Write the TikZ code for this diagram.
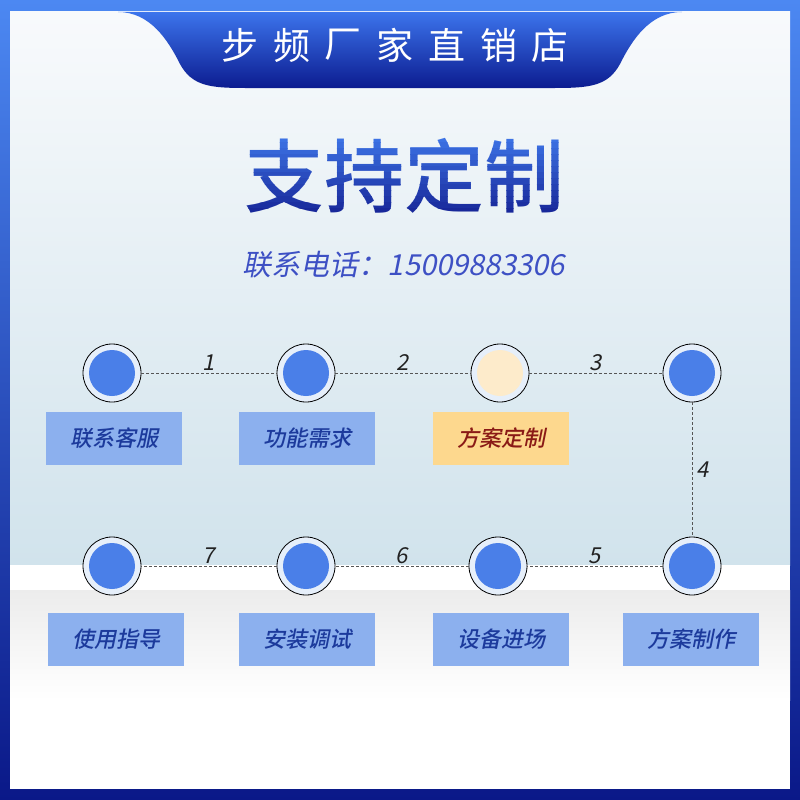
\documentclass[tikz,border=0pt]{standalone}
\usepackage{fontspec}
\newfontfamily\cjk{Noto Sans CJK SC}
\newfontfamily\cjkmed{Noto Sans CJK SC Medium}
\newfontfamily\cjkit[FakeSlant=0.2]{Noto Sans CJK SC}
\newfontfamily\cjkmedit[FakeSlant=0.2]{Noto Sans CJK SC Medium}
\definecolor{frametop}{HTML}{4C88F2}
\definecolor{framebot}{HTML}{0A1888}
\definecolor{bgtop}{HTML}{F8FAFC}
\definecolor{bgmid}{HTML}{D1E3EC}
\definecolor{bggray}{HTML}{ECECEC}
\definecolor{tabtop}{HTML}{3C74EC}
\definecolor{tabbot}{HTML}{0C1C90}
\definecolor{titletop}{HTML}{3C72E4}
\definecolor{titlebot}{HTML}{18289A}
\definecolor{phoneblue}{HTML}{3D50C4}
\definecolor{dotblue}{HTML}{4A7FE8}
\definecolor{ringwhite}{HTML}{E6EFFA}
\definecolor{peach}{HTML}{FDEBCB}
\definecolor{boxblue}{HTML}{8CB0EE}
\definecolor{boxtext}{HTML}{1C3A9C}
\definecolor{boxorange}{HTML}{FDD88E}
\definecolor{boxred}{HTML}{8A1A16}
\definecolor{linegray}{HTML}{555555}
\definecolor{numgray}{HTML}{222222}
\tikzset{
  stepdot/.style={circle, draw=black, line width=0.8pt, fill=ringwhite,
    minimum size=58pt, inner sep=0pt,
    path picture={\fill[#1] (path picture bounding box.center) circle (23pt);}},
  stepdot/.default=dotblue,
  stepbox/.style={fill=boxblue, minimum width=136pt, minimum height=53pt,
    text=boxtext, font=\cjkmedit\fontsize{22}{22}\selectfont},
  hotbox/.style={stepbox, fill=boxorange, text=boxred},
  link/.style={draw=linegray, dash pattern=on 3pt off 2pt, line width=0.6pt},
  numlabel/.style={font=\cjkit\fontsize{22}{22}\selectfont, text=numgray, inner sep=2pt},
  titlefont/.style={font=\cjkmed\fontsize{80}{80}\selectfont}
}
\begin{document}
\begin{tikzpicture}[x=1pt,y=-1pt]
\useasboundingbox (0,0) rectangle (800,800);
% frame and background
\shade[top color=frametop, bottom color=framebot] (0,0) rectangle (800,800);
\shade[top color=bgtop, bottom color=bgmid] (10,12) rectangle (790,565);
\fill[white] (10,565) rectangle (790,590);
\shade[top color=bggray, bottom color=white] (10,590) rectangle (790,700);
\fill[white] (10,700) rectangle (790,789);
% header tab
\shade[top color=tabtop, bottom color=tabbot] (118,12)
  .. controls (150,12) and (168,40) .. (180,64)
  .. controls (192,86) and (210,88) .. (245,88) -- (555,88)
  .. controls (590,88) and (608,86) .. (620,64)
  .. controls (632,40) and (650,12) .. (682,12) -- cycle;
\foreach \ch [count=\i from 0] in {步,频,厂,家,直,销,店}
  \node[font=\cjk\fontsize{37}{37}\selectfont, text=white] (h\i) at (240+51.7*\i,45) {\ch};
% titles (banded for the colour gradient)
\foreach \k [evaluate=\k as \pct using {int(min(100,max(0,(\k*6-6)*100/72)))}] in {0,...,15} {
  \begin{scope}
    \clip (200,130+6*\k) rectangle (610,136.4+6*\k);
    \node[titlefont, text=titlebot!\pct!titletop] (t\k) at (404,176) {支持定制};
  \end{scope}
}
\node[font=\cjkit\fontsize{29}{29}\selectfont, text=phoneblue] (phone) at (404,265) {联系电话：15009883306};
% steps
\node[stepdot] (s1) at (112,373) {};
\node[stepdot] (s2) at (306,373) {};
\node[stepdot=peach] (s3) at (500,373) {};
\node[stepdot] (s4) at (692,373) {};
\node[stepdot] (s5) at (692,566) {};
\node[stepdot] (s6) at (498,566) {};
\node[stepdot] (s7) at (306,566) {};
\node[stepdot] (s8) at (112,566) {};
\node[stepbox] (b1) at (114,438) {联系客服};
\node[stepbox] (b2) at (307,438) {功能需求};
\node[hotbox] (b3) at (501,438) {方案定制};
\node[stepbox] (b5) at (691,639) {方案制作};
\node[stepbox] (b6) at (501,639) {设备进场};
\node[stepbox] (b7) at (307,639) {安装调试};
\node[stepbox] (b8) at (116,639) {使用指导};
% links
\draw[link] (s1) -- node[above, numlabel] {1} (s2);
\draw[link] (s2) -- node[above, numlabel] {2} (s3);
\draw[link] (s3) -- node[above, numlabel] {3} (s4);
\draw[link] (s4) -- node[right, numlabel, xshift=2pt] {4} (s5);
\draw[link] (s5) -- node[above, numlabel] {5} (s6);
\draw[link] (s6) -- node[above, numlabel] {6} (s7);
\draw[link] (s7) -- node[above, numlabel] {7} (s8);
\end{tikzpicture}
\end{document}
